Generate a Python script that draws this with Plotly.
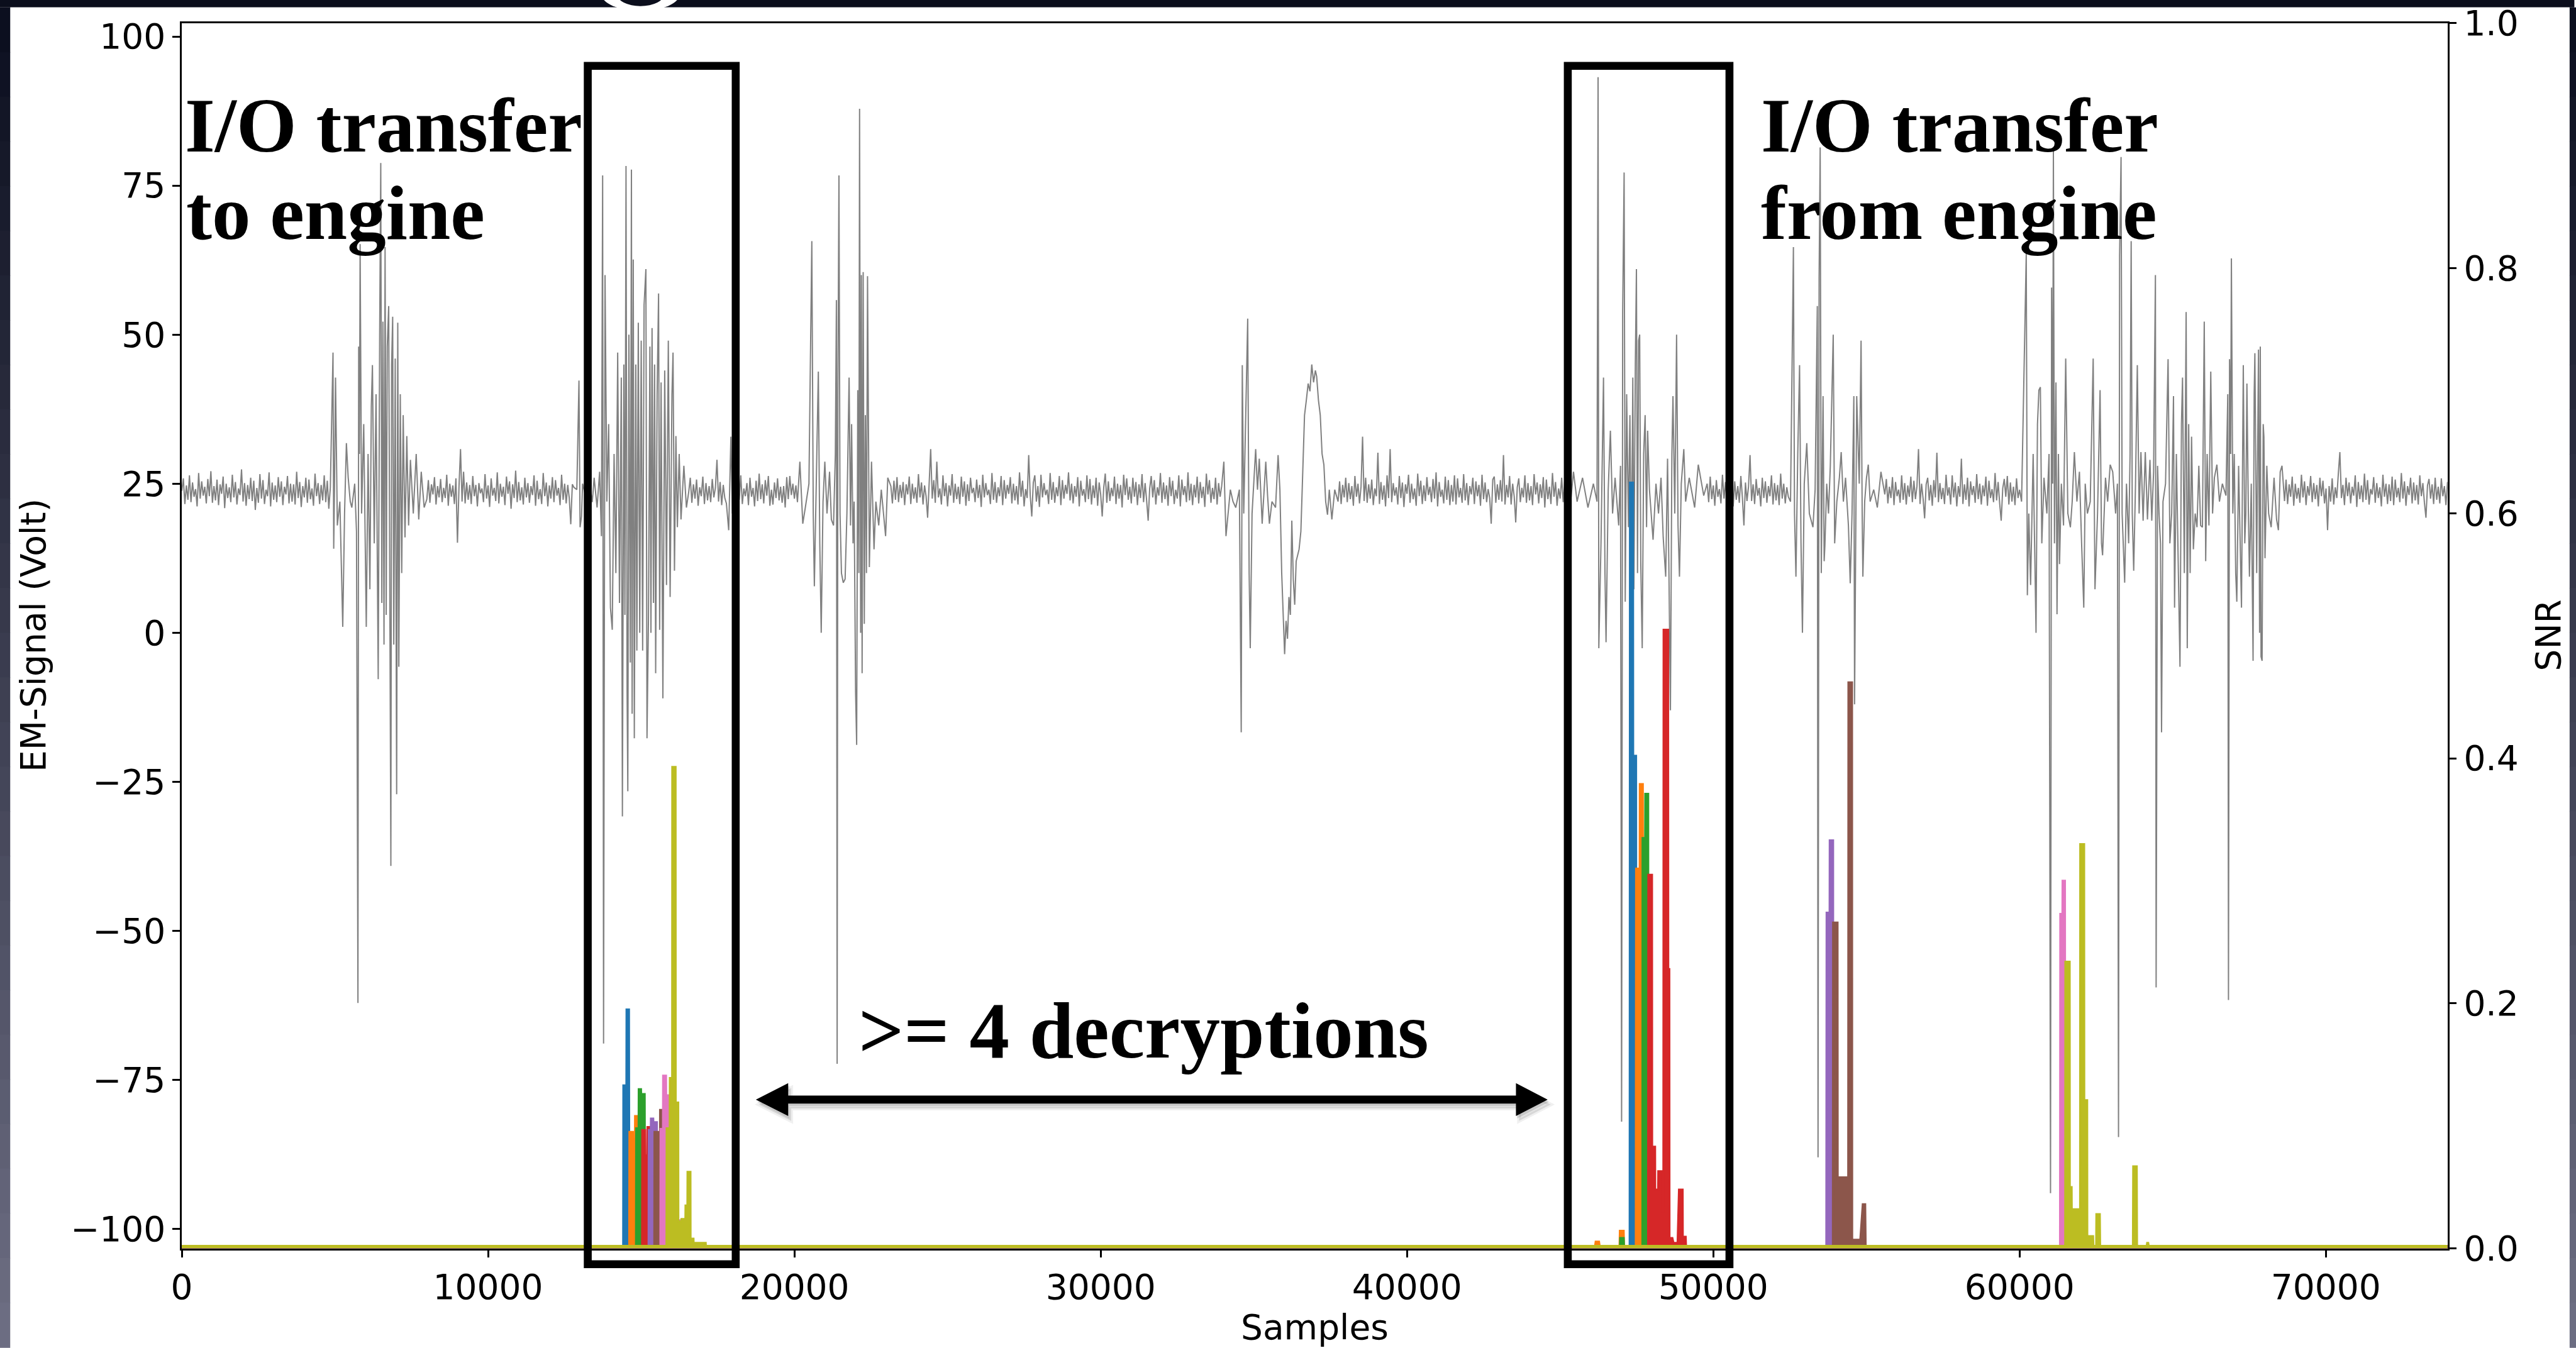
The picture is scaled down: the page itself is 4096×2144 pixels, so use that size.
import numpy as np
import plotly.graph_objects as go

W, H = 4096, 2144
S = 0.97  # reference px -> output px


def PX(xf):
    return xf * S / W


def PY(yf):
    return 1 - yf * S / H


# ---------------- axis ticks ----------------
x_tickvals = [0, 10000, 20000, 30000, 40000, 50000, 60000, 70000]
x_ticktext = ["0", "10000", "20000", "30000", "40000", "50000", "60000", "70000"]
em_tickvals = [-100, -75, -50, -25, 0, 25, 50, 75, 100]
em_ticktext = ["\u2212100", "\u221275", "\u221250", "\u221225", "0", "25", "50", "75", "100"]
snr_tickvals = [0.0, 0.2, 0.4, 0.6, 0.8, 1.0]
snr_ticktext = ["0.0", "0.2", "0.4", "0.6", "0.8", "1.0"]

# ---------------- EM signal (grey) ----------------
# quiet stretches: (first sample, last sample) and the values
em_quiet1_span = (0, 4850)
em_quiet1 = [23.8, 25.9, 21.6, 24.7, 22.3, 26.4, 21.9, 25.2, 22.8, 24.1,
             21.2, 26.8, 22.5, 25.4, 23.0, 24.5, 21.7, 25.8, 22.9, 27.1,
             21.8, 24.6, 22.2, 25.7, 21.4, 24.9, 23.3, 26.2, 20.9, 25.0,
             22.6, 24.4, 21.9, 26.5, 22.7, 25.3, 21.5, 24.2, 23.1, 27.4,
             22.0, 25.1, 21.3, 24.8, 22.4, 26.0, 22.1, 25.5, 20.6, 24.3,
             21.8, 26.6, 22.5, 25.6, 21.6, 24.0, 22.9, 26.9, 21.2, 25.2,
             22.3, 24.7, 21.9, 26.1, 22.8, 25.4, 21.4, 24.5, 23.2, 26.3,
             21.7, 25.0, 22.0, 24.9, 21.5, 27.0, 22.6, 25.3, 21.1, 24.6,
             22.7, 26.0, 21.8, 25.7, 22.4, 24.2, 21.3, 26.7, 22.9, 25.1,
             21.6, 24.8, 22.2, 26.4, 21.9, 25.5, 20.8, 24.4]
em_burst1 = [(4937, 47.0), (4960, 14.1), (4984, 24), (5019, 42.8), (5078, 18), (5161, 22), (5255, 1.0),
             (5314, 20), (5374, 31.8), (5433, 26), (5500, 22), (5551, 21), (5645, 25), (5704, 17),
             (5751, -62.1), (5775, 48), (5800, 30), (5822, 65.2), (5870, 20), (5940, 35), (6023, 1),
             (6082, 30), (6141, 7.3), (6188, 38), (6224, 44.9), (6283, 15), (6342, 40), (6413, -7.8),
             (6460, 50), (6496, 78.8), (6531, 5), (6566, 52.2), (6602, -2), (6637, 64.7), (6673, 3),
             (6708, 48), (6755, 54.8), (6791, -3), (6826, -39.1), (6850, 45), (6885, 53), (6921, -2),
             (6968, 46), (7015, -27.1), (7051, 52), (7086, -5.7), (7133, 40), (7180, 10), (7228, 36.5),
             (7287, 16), (7346, 33), (7405, 18), (7464, 29), (7558, 20), (7653, 30), (7736, 19),
             (7818, 27), (7913, 21)]
em_quiet2_span = (8000, 12800)
em_quiet2 = [22.4, 25.6, 21.8, 24.9, 23.2, 26.1, 21.5, 24.6, 22.7, 25.8,
             21.9, 24.3, 22.6, 26.5, 21.3, 25.0, 22.8, 24.7, 21.6, 25.9,
             15.1, 24.5, 30.8, 22.0, 27.0, 21.7, 25.2, 22.3, 24.8, 21.6,
             26.3, 22.9, 24.8, 21.2, 25.1, 23.4, 24.2, 21.9, 26.6, 22.5,
             24.7, 21.1, 25.9, 23.0, 24.3, 22.1, 26.9, 21.7, 25.0, 22.8,
             24.5, 21.4, 26.2, 23.3, 25.4, 20.8, 24.9, 22.6, 27.2, 21.9,
             25.3, 22.2, 24.4, 21.5, 26.0, 22.7, 25.1, 21.8, 24.6, 23.1,
             26.4, 21.3, 25.5, 22.4, 24.1, 21.6, 26.8, 22.9, 25.2, 21.2,
             24.7, 22.5, 26.1, 21.9, 25.6, 23.0, 24.3, 21.4, 26.5, 22.3,
             25.0, 21.7, 24.8, 22.6, 18.2, 24.9, 24.4]
em_burst2 = [(12897, 24.0), (12967, 42.3), (13003, 17.7), (13050, 19.5), (13085, 25), (13200, 22.6),
             (13300, 25.8), (13400, 21.9), (13463, 26), (13558, 21), (13641, 27), (13700, 16.2),
             (13740, 76.7), (13770, -68.9), (13818, 60), (13877, 22), (13936, 35), (13995, 4.2),
             (14054, 0.5), (14113, 30), (14172, 10), (14231, 47), (14290, 5), (14349, 42.8),
             (14385, -30.8), (14432, 45), (14467, 3), (14503, 78.3), (14538, -10), (14562, -26.6),
             (14597, 50), (14644, -5), (14680, 77.7), (14703, -13.6), (14739, 62.6), (14774, -17.7),
             (14822, 45), (14857, -3), (14904, 52), (14951, 0), (14999, 49), (15046, -3), (15093, 55),
             (15152, 61), (15188, -17.7), (15235, 2), (15282, 48), (15317, 0), (15353, 51.1), (15400, 5),
             (15436, 45), (15471, -6.8), (15518, 40), (15566, 56.9), (15601, 0.5), (15648, 42),
             (15707, -11), (15766, 44), (15825, 8), (15884, 49), (15943, 6), (16003, 40), (16038, 47),
             (16085, 10.4), (16132, 33), (16180, 17.7), (16239, 30), (16298, 19), (16392, 28), (16475, 21)]
em_quiet3_span = (16550, 17780)
em_quiet3 = [23.6, 26.0, 21.8, 24.9, 22.5, 25.7, 21.3, 24.4, 22.9, 26.2, 21.6, 25.1, 22.2, 24.6, 21.9,
             25.8, 22.7, 24.3, 29.0, 22.0, 25.3, 21.4, 24.8, 22.6, 21.7]
em_spike3 = [(17856, 17.2), (17927, 32.9), (17975, 20)]
em_quiet4_span = (18050, 20100)
em_quiet4 = [24.8, 21.9, 25.7, 22.3, 26.4, 21.6, 24.2, 22.9, 25.1, 21.4, 26.0, 22.8, 24.3, 21.2, 25.5,
             22.1, 26.7, 22.4, 24.9, 21.7, 25.6, 23.0, 26.3, 21.3, 24.0, 21.5, 25.2, 22.6, 25.9, 22.2,
             24.5, 21.8, 24.6, 21.0, 26.1, 22.4, 26.3, 23.1, 25.0, 22.5, 24.7, 21.9]
em_burst3 = [(20179, 28.7), (20274, 18.3), (20357, 21), (20475, 25), (20569, 65.7), (20616, 20),
             (20652, 7.8), (20711, 25), (20782, 43.8), (20829, 15), (20876, 0), (20935, 22), (20994, 28.7),
             (21065, 20), (21148, 27), (21207, 19), (21278, 18), (21337, 30), (21372, 55.8), (21396, -72.3),
             (21420, 40), (21455, 76.7), (21490, 20), (21537, 10), (21596, 8.4), (21656, 9), (21715, 20),
             (21786, 42.8), (21833, 18), (21868, 35), (21915, 15), (21951, 22), (21998, -10),
             (22033, -18.8), (22069, 40.7), (22104, 10), (22128, 87.9), (22163, 0), (22187, 60),
             (22211, -6.8), (22246, 60.5), (22282, 1.5), (22317, 36.5), (22353, 10), (22388, 59.8),
             (22447, 11), (22518, 28.7), (22600, 14), (22660, 22), (22754, 18), (22837, 24), (22978, 16.2),
             (23049, 26)]
em_quiet5_span = (23150, 33950)
em_quiet5 = [24.6, 21.7, 25.5, 22.3, 26.1, 21.9, 24.8, 22.6, 25.3, 21.4,
             24.9, 23.2, 26.2, 21.6, 25.0, 22.5, 24.4, 21.8, 26.6, 22.7,
             25.2, 21.5, 24.7, 22.9, 19.3, 25.4, 30.8, 22.5, 25.6, 21.8,
             28.7, 22.7, 24.2, 21.5, 26.4, 22.9, 25.1, 21.2, 24.7, 23.0,
             26.6, 21.8, 25.0, 22.4, 24.5, 21.6, 26.2, 22.8, 25.4, 21.3,
             24.9, 22.1, 26.0, 23.4, 24.3, 21.9, 25.7, 22.6, 24.8, 21.1,
             26.5, 22.7, 25.1, 23.1, 24.0, 21.6, 26.8, 22.3, 25.3, 21.8,
             24.4, 22.9, 26.3, 21.4, 25.6, 22.5, 24.8, 23.3, 26.1, 21.7,
             25.0, 22.2, 24.6, 21.5, 26.9, 22.8, 25.5, 21.2, 24.1, 22.6,
             29.8, 23.0, 19.5, 25.2, 26.4, 22.0, 24.6, 21.1, 26.5, 22.7,
             25.1, 23.1, 24.0, 21.6, 26.8, 22.3, 25.3, 21.8, 24.4, 22.9,
             26.3, 21.4, 25.6, 22.5, 24.8, 23.3, 26.9, 22.2, 25.0, 21.7,
             24.6, 22.8, 26.1, 21.2, 25.5, 23.0, 24.1, 21.9, 26.4, 22.4,
             25.8, 21.5, 24.7, 22.6, 26.0, 21.3, 25.2, 23.2, 19.5, 24.4,
             26.7, 21.8, 25.4, 22.1, 24.3, 22.9, 26.2, 21.6, 25.0, 22.5,
             24.8, 21.0, 26.5, 23.1, 25.9, 22.3, 24.5, 21.7, 26.0, 22.8,
             25.3, 21.4, 24.9, 22.6, 26.6, 21.9, 25.1, 22.2, 18.8, 24.2,
             26.3, 22.7, 25.6, 21.5, 24.4, 23.0, 26.8, 21.8, 25.2, 22.4,
             24.7, 21.3, 26.1, 22.9, 25.5, 21.6, 24.0, 22.5, 26.4, 21.2,
             25.7, 23.1, 24.6, 21.9, 26.9, 22.2, 25.0, 21.4, 24.8, 22.7,
             26.2, 21.7, 25.3, 22.6, 24.5, 21.1, 26.7, 23.2, 25.6, 21.8,
             24.3, 22.4, 26.0, 21.5, 25.1, 22.8, 24.6]
em_burst4 = [(34021, 28.7), (34091, 16.2), (34233, 24), (34320, 22), (34410, 21), (34528, 24),
             (34588, -16.7), (34623, 44.9), (34670, 20), (34729, 35), (34800, 52.7), (34847, 10),
             (34883, -2.6), (34942, 20), (35001, 26), (35060, 30.8), (35119, 24), (35178, 29.2),
             (35272, 18.3), (35331, 24), (35390, 28.7), (35449, 23), (35508, 18.3), (35591, 22),
             (35709, 21), (35792, 29.8), (35851, 24), (35910, 10), (35957, 4), (36005, -3.6), (36052, 2),
             (36099, -1), (36146, 6), (36193, 3), (36240, 18.8), (36288, 9), (36335, 4.7), (36382, 12),
             (36430, 13), (36477, 14), (36536, 17), (36595, 28), (36655, 36.5), (36714, 39),
             (36773, 41.8), (36832, 40.5), (36891, 45), (36950, 42), (37009, 44), (37051, 43),
             (37110, 39), (37169, 36.5), (37228, 30), (37287, 28.2), (37346, 22), (37405, 19.8),
             (37464, 24), (37547, 19), (37641, 24)]
em_quiet6_span = (37750, 45350)
em_quiet6 = [22.0, 25.4, 21.6, 24.8, 22.7, 26.0, 21.9, 25.1, 22.4, 24.6,
             21.3, 26.3, 22.8, 25.0, 21.7, 24.5, 32.9, 22.1, 26.0, 21.8,
             24.9, 22.5, 25.7, 21.4, 24.2, 22.9, 30.2, 21.6, 25.3, 22.3,
             24.7, 21.2, 26.4, 22.6, 30.8, 21.9, 25.1, 23.0, 24.4, 21.5,
             26.3, 22.6, 25.2, 21.1, 24.9, 23.3, 26.5, 21.8, 25.0, 22.4,
             24.2, 21.3, 26.7, 22.9, 25.5, 21.6, 24.7, 22.1, 26.1, 23.1,
             24.5, 21.9, 25.8, 22.5, 26.9, 21.2, 25.3, 22.8, 24.0, 21.7,
             26.2, 22.3, 25.6, 21.4, 24.8, 22.0, 26.4, 21.5, 25.9, 22.7,
             24.3, 21.8, 26.6, 22.2, 25.1, 21.4, 24.6, 23.2, 26.0, 21.6,
             25.4, 22.9, 24.8, 21.3, 26.5, 22.4, 25.2, 21.9, 24.1, 22.6,
             18.3, 25.7, 26.2, 21.8, 24.9, 22.3, 25.6, 22.0, 29.8, 21.5,
             24.8, 22.7, 26.3, 21.5, 25.0, 22.9, 18.5, 24.4, 25.9, 21.9,
             24.3, 22.7, 26.4, 21.8, 25.1, 22.2, 24.6, 21.4, 26.6, 23.2,
             25.2, 21.7, 24.9, 22.6, 26.1, 21.0, 25.7, 22.4, 24.5, 21.6,
             26.8, 22.8, 25.3, 21.3, 24.2, 22.5, 26.0, 21.9, 25.5, 22.1,
             24.7, 21.8, 22.4]
em_burst5 = [(45436, 27), (45554, 22), (45731, 26), (45908, 21), (46086, 25), (46204, 22), (46239, 93.2),
             (46263, -2.6), (46334, 15), (46416, 42.8), (46464, 10), (46499, -1.6), (46570, 24),
             (46641, 33.9), (46712, 20), (46794, 26), (46912, 18), (46971, 28), (47007, -82),
             (47042, 53.8), (47089, 77.2), (47125, 5.2), (47172, 40), (47231, 17.7), (47278, 36.5),
             (47325, 10), (47373, 42.8), (47408, 7.3), (47455, 45), (47491, 61), (47526, 10), (47562, 49),
             (47597, 50), (47632, 12), (47680, -2.6), (47727, 30), (47775, 36.5), (47822, 17.7),
             (47857, 33.9), (47916, 24), (47975, 20), (48034, 15.6), (48129, 25), (48212, 20), (48294, 26),
             (48365, 16), (48447, 9.4), (48507, 29.2), (48554, 9.4), (48601, -13), (48648, 30),
             (48684, 39.7), (48743, 20), (48802, 50), (48849, 18), (48896, 9.4), (48955, 25), (49038, 30.8),
             (49097, 22), (49215, 26), (49392, 21), (49510, 28.2), (49688, 23)]
em_quiet7_span = (49800, 52450)
em_quiet7 = [25.0, 21.9, 26.2, 22.4, 24.7, 21.3, 25.6, 22.8, 24.1, 21.7,
             26.5, 22.5, 25.3, 21.6, 24.8, 22.9, 26.0, 21.2, 25.4, 22.3,
             24.6, 21.8, 26.3, 22.7, 18.0, 25.2, 22.1, 24.5, 29.8, 22.1,
             24.9, 21.6, 25.8, 23.0, 24.3, 21.2, 26.0, 22.6, 25.4, 21.8,
             24.6, 22.9, 26.4, 21.5, 25.1, 22.2, 24.8, 21.4, 26.7, 22.5,
             25.0, 21.7, 24.4, 22.8]
em_burst6 = [(52522, 22), (52616, 64.7), (52652, 20), (52699, 9.4), (52758, 30), (52817, 44.9),
             (52864, 15), (52911, 0), (52970, 25), (53053, 31.8), (53136, 20), (53254, 17.7), (53325, 24),
             (53396, 54.8), (53420, -88), (53455, 59.5), (53490, 81.4), (53526, 10), (53561, 25),
             (53584, 39.7), (53620, 12), (53644, 14.6), (53703, 25), (53762, 20), (53821, 28), (53916, 50),
             (53963, 15), (54034, 22), (54117, 26), (54176, 30.3), (54247, 22), (54318, 26), (54412, 18),
             (54471, 8.3), (54530, 20), (54589, 39.7), (54613, -12), (54648, 20), (54683, 39.7),
             (54766, 25), (54825, 49), (54861, 20), (54884, 9.4), (54943, 22), (55002, 26), (55061, 28.2),
             (55121, 22), (55238, 24), (55356, 21), (55474, 27)]
em_quiet8_span = (55600, 60000)
em_quiet8 = [23.2, 25.8, 21.7, 24.5, 22.6, 26.1, 21.4, 25.3, 22.9, 24.0,
             21.8, 26.4, 22.3, 25.1, 21.5, 24.7, 22.8, 26.2, 21.9, 25.5,
             22.4, 24.6, 30.8, 21.6, 25.0, 22.5, 19.2, 24.9, 26.0, 22.2,
             24.8, 21.3, 25.6, 22.7, 30.2, 21.9, 25.1, 22.4, 24.3, 21.6,
             26.5, 23.0, 24.4, 21.5, 26.4, 22.7, 25.2, 21.2, 24.6, 22.8,
             29.2, 21.6, 24.9, 22.3, 26.0, 21.2, 25.4, 23.1, 24.6, 21.8,
             26.6, 22.4, 25.0, 21.5, 24.7, 22.9, 26.2, 21.3, 25.5, 22.6,
             24.1, 21.9, 26.8, 22.2, 25.3, 21.7, 18.8, 24.2, 25.8, 22.8,
             26.3, 21.5, 25.2, 22.0, 24.5, 21.4, 25.9, 22.6, 24.0]
em_burst7 = [(60065, 22), (60218, 63.7), (60254, 6.3), (60301, 20), (60360, 8), (60443, 30), (60537, 0),
             (60584, 35), (60631, 40.7), (60679, 41.2), (60726, 15), (60797, 26), (60891, 20), (60962, 30),
             (61010, -94), (61045, 57.9), (61080, 25), (61104, 80.9), (61139, 15), (61187, 42),
             (61222, 3.1), (61269, 30), (61305, 11.5), (61364, 25), (61435, 18), (61506, 46), (61576, 20),
             (61659, 17.7), (61718, 22), (61789, 30.3), (61872, 22), (61954, 27), (62025, 15), (62096, 4.2),
             (62143, 25), (62214, 20), (62307, 22), (62403, 46), (62462, 7.3), (62545, 20), (62628, 40.7),
             (62675, 15), (62710, 13), (62805, 26), (62876, 22), (62958, 28.2), (63041, 27), (63135, 20),
             (63194, 25), (63230, -84.6), (63265, 63.2), (63313, 79.8), (63348, 20), (63395, 12),
             (63431, 8.4), (63490, 25), (63561, 15), (63608, 30), (63643, 65.7), (63679, 20), (63726, 10.4),
             (63785, 25), (63844, 44.9), (63903, 20), (63962, 30.3), (64033, 18.8), (64104, 30.3),
             (64175, 19), (64257, 29), (64316, 18.8), (64375, 27), (64435, 60), (64458, -59.5), (64505, 28),
             (64553, 20), (64600, 15), (64635, -16.7), (64682, 22), (64765, 25), (64848, 45.9), (64907, 15),
             (64966, 20), (65025, 39.7), (65060, 4.2), (65119, 30), (65178, 12), (65237, -5.7), (65285, 35),
             (65320, 42.8), (65379, 10), (65438, 53.8), (65474, -2.6), (65521, 35), (65568, 10),
             (65615, 32.9), (65674, 14), (65733, 20), (65792, 17.7), (65852, 28), (65911, 18), (65970, 17.7),
             (66029, 52.2), (66076, 12), (66123, 30), (66182, 18), (66242, 43.8), (66301, 20), (66360, 26),
             (66442, 28.2), (66525, 22), (66620, 25), (66738, 23), (66797, 40), (66820, -61.6),
             (66855, 45.9), (66891, 30), (66915, 62.8), (66962, 20), (67009, 30), (67056, 10), (67092, 5.2),
             (67151, 28), (67210, 12), (67245, 4.2), (67304, 44.9), (67352, 15), (67387, 20), (67422, 41.8),
             (67470, 20), (67505, 9.4), (67564, 25), (67623, -4.7), (67659, 40), (67682, 46.9), (67741, 10),
             (67800, 47.5), (67836, 0), (67859, 48), (67883, -4), (67918, -4.7), (67954, 35), (67977, 32.9),
             (68013, 12.5), (68072, 28), (68131, 20), (68214, 17.7), (68308, 26), (68390, 19),
             (68450, 17.2), (68509, 27), (68568, 28)]
em_quiet9_span = (68650, 73970)
em_quiet9 = [22.1, 25.7, 21.6, 24.9, 22.8, 26.2, 21.3, 25.0, 22.5, 24.3,
             21.8, 26.5, 22.7, 25.4, 21.4, 24.6, 23.0, 26.3, 21.9, 25.1,
             22.4, 24.8, 21.2, 26.0, 22.9, 25.5, 21.7, 24.2, 17.2, 24.6,
             22.0, 25.9, 21.5, 24.4, 22.6, 26.7, 30.3, 22.6, 24.8, 21.4,
             26.0, 22.9, 25.2, 21.7, 24.5, 23.0, 26.4, 21.1, 25.3, 22.4,
             24.7, 21.9, 26.7, 22.3, 25.6, 21.5, 24.1, 23.2, 26.1, 21.8,
             25.1, 22.6, 24.4, 21.2, 26.5, 22.8, 25.0, 21.6, 24.9, 22.1,
             26.2, 21.4, 25.7, 22.7, 24.3, 21.9, 26.8, 22.5, 25.4, 21.3,
             24.6, 23.1, 26.0, 21.7, 25.2, 22.2, 24.8, 21.5, 26.4, 22.9,
             25.1, 21.8, 19.3, 24.7, 25.8, 22.5, 24.9, 21.6, 26.0, 22.3,
             24.5, 21.7, 25.9, 22.9, 24.6, 21.4, 25.3]

# ---------------- SNR traces (x sample, SNR) ----------------
snr_blue = [(0, 0.002), (14410, 0.002), (14416, 0.133), (14515, 0.133), (14520, 0.195), (14600, 0.195),
            (14612, 0.002), (47270, 0.002), (47280, 0.625), (47380, 0.625), (47385, 0.402), (47480, 0.402),
            (47490, 0.002), (73970, 0.002)]
snr_orange = [(0, 0.002), (14608, 0.002), (14615, 0.095), (14728, 0.095), (14732, 0.080), (14794, 0.080),
              (14798, 0.108), (14880, 0.108), (14900, 0.002), (46140, 0.002), (46160, 0.0055), (46270, 0.0055),
              (46290, 0.002), (46940, 0.002), (46950, 0.0144), (47075, 0.0144), (47085, 0.002), (47470, 0.002),
              (47480, 0.31), (47598, 0.31), (47602, 0.379), (47700, 0.379), (47710, 0.002), (73970, 0.002)]
snr_green = [(0, 0.002), (14828, 0.002), (14834, 0.098), (14914, 0.098), (14918, 0.130), (14993, 0.130),
             (14997, 0.126), (15113, 0.126), (15126, 0.002), (46955, 0.002), (46962, 0.0085), (47075, 0.0085),
             (47085, 0.002), (47685, 0.002), (47690, 0.335), (47775, 0.335), (47780, 0.371), (47875, 0.371),
             (47885, 0.002), (73970, 0.002)]
snr_red = [(0, 0.002), (15028, 0.002), (15033, 0.0966), (15126, 0.0966), (15130, 0.076), (15199, 0.076),
           (15203, 0.099), (15299, 0.099), (15310, 0.002), (47872, 0.002), (47880, 0.305), (48000, 0.305),
           (48004, 0.083), (48100, 0.083), (48104, 0.048), (48200, 0.048), (48204, 0.063), (48330, 0.063),
           (48340, 0.03), (48370, 0.03), (48378, 0.505), (48525, 0.505), (48530, 0.228), (48565, 0.228),
           (48570, 0.0085), (48665, 0.0085), (48700, 0.0045), (48835, 0.0045), (48880, 0.048), (49000, 0.048),
           (49005, 0.0095), (49100, 0.0095), (49110, 0.002), (73970, 0.002)]
snr_purple = [(0, 0.002), (15240, 0.002), (15246, 0.0966), (15312, 0.0966), (15316, 0.106), (15392, 0.106),
              (15396, 0.103), (15511, 0.103), (15522, 0.002), (53690, 0.002), (53700, 0.274), (53798, 0.274),
              (53802, 0.333), (53912, 0.333), (53918, 0.019), (54230, 0.019), (54240, 0.002), (73970, 0.002)]
snr_brown = [(0, 0.002), (15426, 0.002), (15432, 0.095), (15578, 0.095), (15582, 0.056), (15611, 0.056),
             (15615, 0.113), (15710, 0.113), (15722, 0.002), (53905, 0.002), (53912, 0.266), (54057, 0.266),
             (54062, 0.058), (54405, 0.058), (54412, 0.462), (54530, 0.462), (54535, 0.007), (54800, 0.007),
             (54880, 0.036), (54960, 0.036), (54975, 0.002), (73970, 0.002)]
snr_pink = [(0, 0.002), (15625, 0.002), (15631, 0.0975), (15710, 0.0975), (15714, 0.141), (15810, 0.141),
            (15814, 0.125), (15910, 0.125), (15922, 0.002), (16220, 0.002), (16228, 0.023), (16308, 0.023),
            (16318, 0.002), (61320, 0.002), (61329, 0.273), (61399, 0.273), (61403, 0.30), (61482, 0.30),
            (61490, 0.016), (61790, 0.016), (61800, 0.002), (73970, 0.002)]
snr_olive = [(0, 0.002), (15824, 0.002), (15830, 0.098), (15930, 0.098), (15934, 0.139), (16009, 0.139),
             (16013, 0.393), (16122, 0.393), (16126, 0.119), (16208, 0.119), (16212, 0.022), (16308, 0.022),
             (16312, 0.024), (16441, 0.024), (16445, 0.035), (16507, 0.035), (16511, 0.0625), (16607, 0.0625),
             (16611, 0.008), (16706, 0.008), (16710, 0.0045), (17105, 0.0045), (17110, 0.002), (61490, 0.002),
             (61495, 0.234), (61636, 0.234), (61640, 0.05), (61700, 0.05), (61704, 0.032), (61976, 0.032),
             (61980, 0.33), (62108, 0.33), (62112, 0.121), (62207, 0.121), (62211, 0.01), (62400, 0.01),
             (62410, 0.002), (62500, 0.002), (62507, 0.028), (62620, 0.028), (62630, 0.002), (63700, 0.002),
             (63710, 0.067), (63826, 0.067), (63835, 0.002), (64150, 0.002), (64165, 0.0045), (64200, 0.0045),
             (64215, 0.002), (73970, 0.002)]
snr_series = [("#1f77b4", snr_blue), ("#ff7f0e", snr_orange), ("#2ca02c", snr_green), ("#d62728", snr_red),
              ("#9467bd", snr_purple), ("#8c564b", snr_brown), ("#e377c2", snr_pink), ("#bcbd22", snr_olive)]

# ---------------- assemble EM trace ----------------
segments = [("q", em_quiet1_span, em_quiet1), ("b", em_burst1), ("q", em_quiet2_span, em_quiet2),
            ("b", em_burst2), ("q", em_quiet3_span, em_quiet3), ("b", em_spike3),
            ("q", em_quiet4_span, em_quiet4), ("b", em_burst3), ("q", em_quiet5_span, em_quiet5),
            ("b", em_burst4), ("q", em_quiet6_span, em_quiet6), ("b", em_burst5),
            ("q", em_quiet7_span, em_quiet7), ("b", em_burst6), ("q", em_quiet8_span, em_quiet8),
            ("b", em_burst7), ("q", em_quiet9_span, em_quiet9)]
em_x, em_y = [], []
for seg in segments:
    if seg[0] == "q":
        span, vals = seg[1], seg[2]
        em_x += list(np.linspace(span[0], span[1], len(vals)))
        em_y += vals
    else:
        em_x += [p[0] for p in seg[1]]
        em_y += [p[1] for p in seg[1]]

fig = go.Figure()
fig.add_trace(go.Scatter(x=em_x, y=em_y, mode="lines", line=dict(color="#808080", width=2.0),
                         yaxis="y", hoverinfo="skip", showlegend=False))
for col, pts in snr_series:
    fig.add_trace(go.Scatter(x=[p[0] for p in pts], y=[p[1] for p in pts], mode="lines",
                             line=dict(color=col, width=3.2), fill="tozeroy", fillcolor=col,
                             yaxis="y2", hoverinfo="skip", showlegend=False))

# ---------------- layout ----------------
tick_font = dict(family="DejaVu Sans", size=55, color="black")
xdom = [PX(298), PX(4012)]
ydom = [PY(2047), PY(38)]
fig.update_layout(
    width=W, height=H, margin=dict(l=0, r=0, t=0, b=0), autosize=False,
    paper_bgcolor="white", plot_bgcolor="white", showlegend=False,
    xaxis=dict(domain=xdom, range=[0, 73970], tickvals=x_tickvals, ticktext=x_ticktext,
               showline=True, linecolor="black", linewidth=2.5, mirror=True, ticks="outside",
               ticklen=12, tickwidth=2.5, tickcolor="black", tickfont=tick_font, showgrid=False,
               zeroline=False, automargin=False),
    yaxis=dict(domain=ydom, range=[-103.27, 102.25], tickvals=em_tickvals, ticktext=em_ticktext,
               showline=True, linecolor="black", linewidth=2.5, ticks="outside", ticklen=12,
               tickwidth=2.5, tickcolor="black", tickfont=tick_font, showgrid=False, zeroline=False,
               automargin=False),
    yaxis2=dict(domain=ydom, range=[0, 1], overlaying="y", side="right", anchor="x",
                tickvals=snr_tickvals, ticktext=snr_ticktext, showline=True, linecolor="black",
                linewidth=2.5, ticks="outside", ticklen=12, tickwidth=2.5, tickcolor="black",
                tickfont=tick_font, showgrid=False, zeroline=False, automargin=False),
)

# ---------------- slide frame ----------------
shapes = []
navy = (11, 14, 30)
lav = (110, 111, 132)
shapes.append(dict(type="rect", xref="paper", yref="paper", x0=PX(0), x1=PX(4220), y0=PY(0), y1=PY(12),
                   fillcolor="rgb(11,14,28)", line=dict(width=0), layer="below"))
nstrip = 30
for i in range(nstrip):
    t = (i + 0.5) / nstrip
    c = tuple(int(navy[k] + (lav[k] - navy[k]) * t) for k in range(3))
    y0f = 12 + (2209 - 12) * i / nstrip
    y1f = 12 + (2209 - 12) * (i + 1) / nstrip + 1
    col = "rgb(%d,%d,%d)" % c
    shapes.append(dict(type="rect", xref="paper", yref="paper", x0=PX(0), x1=PX(17), y0=PY(y1f), y1=PY(y0f),
                       fillcolor=col, line=dict(width=0), layer="below"))
    shapes.append(dict(type="rect", xref="paper", yref="paper", x0=PX(4212), x1=PX(4230), y0=PY(y1f),
                       y1=PY(y0f), fillcolor=col, line=dict(width=0), layer="below"))
# descender of a cropped white title glyph at the top edge
shapes.append(dict(type="circle", xref="paper", yref="paper", x0=PX(985), x1=PX(1115), y0=PY(18), y1=PY(-40),
                   fillcolor="white", line=dict(width=0), layer="below"))
shapes.append(dict(type="circle", xref="paper", yref="paper", x0=PX(1011), x1=PX(1089), y0=PY(10), y1=PY(-30),
                   fillcolor="rgb(11,14,28)", line=dict(width=0), layer="below"))
shapes.append(dict(type="rect", xref="paper", yref="paper", x0=PX(17), x1=PX(4212), y0=PY(2230), y1=PY(12),
                   fillcolor="white", line=dict(width=0), layer="below"))

# ---------------- highlight boxes and arrow ----------------
for (bx0, bx1) in [(963.5, 1206), (2570, 2835)]:
    shapes.append(dict(type="rect", xref="paper", yref="paper", x0=PX(bx0), x1=PX(bx1), y0=PY(2073),
                       y1=PY(108), line=dict(color="black", width=12.6), fillcolor="rgba(0,0,0,0)",
                       layer="above"))


def arrow_path(dx, dy):
    pts = [(1239, 1803), (1292, 1776), (1292, 1796.5), (2485, 1796.5), (2485, 1776), (2537, 1803),
           (2485, 1830), (2485, 1809.5), (1292, 1809.5), (1292, 1830)]
    d = "M " + " L ".join("%.5f,%.5f" % (PX(x + dx), PY(y + dy)) for x, y in pts) + " Z"
    return d


shapes.append(dict(type="path", xref="paper", yref="paper", path=arrow_path(5, 8), fillcolor="rgba(0,0,0,0.10)",
                   line=dict(width=6, color="rgba(0,0,0,0.06)"), layer="above"))
shapes.append(dict(type="path", xref="paper", yref="paper", path=arrow_path(2, 4), fillcolor="rgba(0,0,0,0.12)",
                   line=dict(width=0), layer="above"))
shapes.append(dict(type="path", xref="paper", yref="paper", path=arrow_path(0, 0), fillcolor="black",
                   line=dict(width=0), layer="above"))
fig.update_layout(shapes=shapes)

# ---------------- texts ----------------
def center_from_baseline(bf, fs):
    return 1 - (bf * S - 0.3375 * fs) / H


annots = []
for txt, xf, bf, fs in [("I/O transfer", 301, 248, 123), ("to engine", 303, 392, 123),
                        ("I/O transfer", 2885, 248, 123), ("from engine", 2885, 392, 123),
                        (">= 4 decryptions", 1405, 1734, 127)]:
    annots.append(dict(text="<b>%s</b>" % txt, xref="paper", yref="paper", x=PX(xf),
                       y=center_from_baseline(bf, fs), xanchor="left", yanchor="middle", showarrow=False,
                       font=dict(family="Liberation Serif, Times New Roman, serif", size=fs, color="black")))
label_font = dict(family="DejaVu Sans", size=55, color="black")
annots.append(dict(text="Samples", xref="paper", yref="paper", x=PX(2155), y=PY(2176), xanchor="center",
                   yanchor="middle", showarrow=False, font=label_font))
annots.append(dict(text="EM-Signal (Volt)", xref="paper", yref="paper", x=PX(54), y=PY(1042), xanchor="center",
                   yanchor="middle", showarrow=False, font=label_font, textangle=-90))
annots.append(dict(text="SNR", xref="paper", yref="paper", x=PX(4177), y=PY(1042), xanchor="center",
                   yanchor="middle", showarrow=False, font=label_font, textangle=-90))
fig.update_layout(annotations=annots)

fig.write_html("out.html", config={"displayModeBar": False})
